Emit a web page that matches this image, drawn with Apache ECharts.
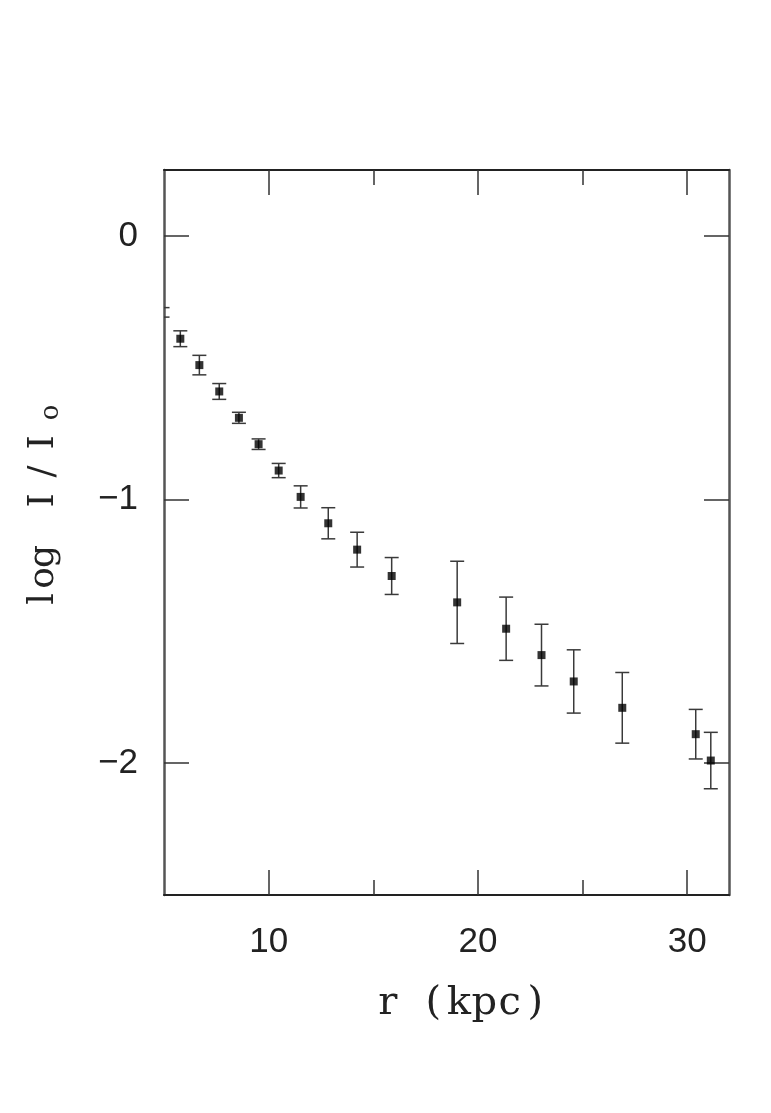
<!DOCTYPE html>
<html>
<head>
<meta charset="utf-8">
<script src="https://cdn.jsdelivr.net/npm/echarts@6/dist/echarts.min.js"></script>
<style>
html,body{margin:0;padding:0;background:#fff;}
#chart{width:771px;height:1113px;}
</style>
</head>
<body>
<div id="chart"></div>
<script>
// Data
const rKpc   = [4.93, 5.78, 6.69, 7.64, 8.58, 9.52, 10.48, 11.53, 12.85, 14.23, 15.88, 19.01, 21.35, 23.04, 24.58, 26.90, 30.41, 31.13];
const logI   = [-0.29, -0.39, -0.49, -0.59, -0.69, -0.79, -0.89, -0.99, -1.09, -1.19, -1.29, -1.39, -1.49, -1.59, -1.69, -1.79, -1.89, -1.99];
const errLog = [0.018, 0.030, 0.037, 0.030, 0.021, 0.020, 0.027, 0.042, 0.059, 0.066, 0.070, 0.156, 0.120, 0.117, 0.120, 0.134, 0.094, 0.107];
const xMajorTicks = [10, 20, 30];
const xMinorTicks = [15, 25];
const yMajorTicks = [0, -1, -2];

const points = rKpc.map((x, i) => [x, logI[i]]);
const bars = rKpc.map((x, i) => [x, logI[i], logI[i] - errLog[i], logI[i] + errLog[i]]);

const hLine = {color: '#222', width: 2};
const vLine = {color: '#555', width: 2.5};
const tickStyle = {color: '#333', width: 1.5};
const tickFont = {fontFamily: 'Liberation Sans', fontSize: 35, color: '#222'};
const titleFont = 'DejaVu Serif';

function tok(w, fs) { return {fontFamily: titleFont, fontSize: fs, color: '#222', width: w, align: 'center'}; }

const chart = echarts.init(document.getElementById('chart'), null, {renderer: 'canvas'});
chart.setOption({
  backgroundColor: '#fff',
  animation: false,
  grid: {left: 164, right: 42, top: 170, bottom: 218, containLabel: false},
  xAxis: [
    {type: 'value', position: 'bottom', min: 5, max: 32,
     axisLine: {show: true, onZero: false, lineStyle: hLine},
     axisTick: {show: true, inside: true, length: 25, customValues: xMajorTicks, lineStyle: tickStyle},
     axisLabel: {show: true, customValues: xMajorTicks, margin: 30, ...tickFont},
     splitLine: {show: false},
     name: '{a|r}{sp| }{a|(}{a|k}{a|p}{a|c}{a|)}', nameLocation: 'middle', nameGap: 89,
     nameTextStyle: {fontFamily: titleFont, fontSize: 40, color: '#222', padding: [0, 0, 0, 30],
       rich: {a: tok(25.5, 40), sp: tok(20, 40)}}},
    {type: 'value', position: 'bottom', min: 5, max: 32,
     axisLine: {show: false, onZero: false},
     axisTick: {show: true, inside: true, length: 15, customValues: xMinorTicks, lineStyle: tickStyle},
     axisLabel: {show: false}, splitLine: {show: false}},
    {type: 'value', position: 'top', min: 5, max: 32,
     axisLine: {show: true, onZero: false, lineStyle: hLine},
     axisTick: {show: true, inside: true, length: 25, customValues: xMajorTicks, lineStyle: tickStyle},
     axisLabel: {show: false}, splitLine: {show: false}},
    {type: 'value', position: 'top', min: 5, max: 32,
     axisLine: {show: false, onZero: false},
     axisTick: {show: true, inside: true, length: 15, customValues: xMinorTicks, lineStyle: tickStyle},
     axisLabel: {show: false}, splitLine: {show: false}}
  ],
  yAxis: [
    {type: 'value', position: 'left', min: -2.5, max: 0.25,
     axisLine: {show: true, onZero: false, lineStyle: vLine},
     axisTick: {show: true, inside: true, length: 25, customValues: yMajorTicks, lineStyle: tickStyle},
     axisLabel: {show: true, customValues: yMajorTicks, margin: 26, ...tickFont,
       formatter: v => (v < 0 ? '\u2212' + Math.abs(v) : String(v))},
     splitLine: {show: false},
     name: '{a|l}{a|o}{g|g}{sp| }{i|I}{s|/}{i|I}{sub|o}', nameLocation: 'middle', nameGap: 100, nameRotate: 90,
     nameTextStyle: {fontFamily: titleFont, fontSize: 36, color: '#222', padding: [0, 0, 0, 58],
       rich: {a: tok(21, 36), g: tok(22, 36), sp: tok(30, 36), i: tok(30, 36), s: tok(28, 36),
              sub: {fontFamily: titleFont, fontSize: 26, color: '#222', width: 30, align: 'center', padding: [14, 0, 0, 0]}}}},
    {type: 'value', position: 'right', min: -2.5, max: 0.25,
     axisLine: {show: true, onZero: false, lineStyle: vLine},
     axisTick: {show: true, inside: true, length: 25, customValues: yMajorTicks, lineStyle: tickStyle},
     axisLabel: {show: false}, splitLine: {show: false}}
  ],
  series: [
    {type: 'custom', xAxisIndex: 0, yAxisIndex: 0, clip: true, data: bars,
     renderItem: function (params, api) {
       const x = api.value(0);
       const lo = api.coord([x, api.value(2)]);
       const hi = api.coord([x, api.value(3)]);
       const cap = 7;
       const st = {stroke: '#3a3a3a', lineWidth: 1.5};
       return {type: 'group', children: [
         {type: 'line', shape: {x1: lo[0], y1: lo[1], x2: hi[0], y2: hi[1]}, style: st},
         {type: 'line', shape: {x1: lo[0] - cap, y1: lo[1], x2: lo[0] + cap, y2: lo[1]}, style: st},
         {type: 'line', shape: {x1: hi[0] - cap, y1: hi[1], x2: hi[0] + cap, y2: hi[1]}, style: st}
       ]};
     }},
    {type: 'scatter', xAxisIndex: 0, yAxisIndex: 0, clip: true, data: points,
     symbol: 'rect', symbolSize: 8, itemStyle: {color: '#000'}}
  ]
});
</script>
</body>
</html>
